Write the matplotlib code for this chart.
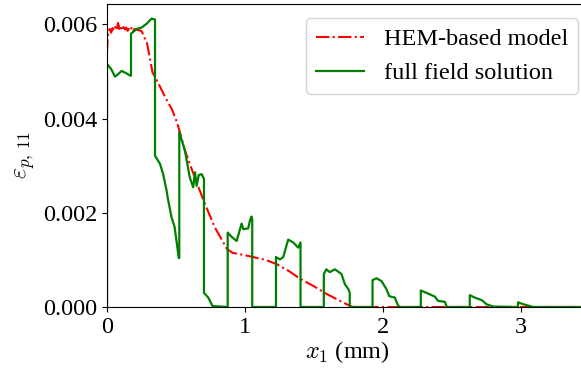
import numpy as np
import matplotlib.pyplot as plt

plt.rcParams['font.family'] = ['Liberation Serif', 'DejaVu Serif']
plt.rcParams['mathtext.fontset'] = 'cm'

# HEM-based model (x in mm, strain)
hem_x = [0.0, 0.005, 0.01, 0.02, 0.03, 0.04, 0.05, 0.06, 0.07, 0.08, 0.09, 0.10,
         0.11, 0.12, 0.13, 0.14, 0.15, 0.16, 0.17, 0.18, 0.19, 0.20, 0.22, 0.25,
         0.29, 0.33, 0.38, 0.435, 0.47, 0.51, 0.565, 0.63, 0.70, 0.78, 0.87, 0.91,
         0.98, 1.06, 1.15, 1.23, 1.32, 1.40, 1.50, 1.59, 1.67, 1.75, 1.78, 2.0,
         2.5, 3.0, 3.5]
hem_y = [0.0054, 0.0057, 0.00585, 0.0059, 0.00582, 0.00592, 0.00586, 0.00594, 0.00588,
         0.00603, 0.0059, 0.00596, 0.00587, 0.00594, 0.00589, 0.00593, 0.00586, 0.00592,
         0.00588, 0.00594, 0.00587, 0.0059, 0.00588, 0.00586,
         0.0056, 0.00498, 0.0047, 0.00438, 0.0042, 0.0039, 0.00332, 0.0028, 0.00226,
         0.0017, 0.00123, 0.00115, 0.00111, 0.00106, 0.001, 0.00091, 0.00076, 0.0006,
         0.00044, 0.00028, 0.00016, 0.00004, 0.0, 0.0, 0.0, 0.0, 0.0]

# full field solution
ff_x = [0.0, 0.0, 0.03, 0.058, 0.08, 0.106, 0.14, 0.167, 0.174, 0.174, 0.215, 0.25,
        0.287, 0.323, 0.348, 0.348, 0.384, 0.406, 0.432, 0.44, 0.468, 0.49, 0.504,
        0.52, 0.524, 0.524, 0.565, 0.60, 0.625, 0.638, 0.65, 0.665, 0.686, 0.703,
        0.703, 0.734, 0.765, 0.875, 0.875, 0.903, 0.94, 0.964, 0.976, 0.988, 1.024,
        1.036, 1.048, 1.053, 1.053, 1.225, 1.225, 1.254, 1.278, 1.297, 1.314, 1.35,
        1.386, 1.403, 1.403, 1.572, 1.572, 1.59, 1.615, 1.652, 1.70, 1.725, 1.75,
        1.76, 1.76, 1.925, 1.925, 1.954, 1.99, 2.026, 2.046, 2.087, 2.106, 2.12,
        2.275, 2.275, 2.316, 2.377, 2.40, 2.45, 2.46, 2.47, 2.63, 2.63, 2.667, 2.72,
        2.75, 2.80, 2.98, 2.98, 3.017, 3.09, 3.5]
ff_y = [0.0, 0.00516, 0.00505, 0.00489, 0.00494, 0.00501, 0.00496, 0.00491, 0.00491,
        0.0058, 0.0059, 0.00593, 0.00601, 0.00612, 0.0061, 0.00321, 0.00304, 0.00283,
        0.00247, 0.00232, 0.0019, 0.0017, 0.0014, 0.00104, 0.00104, 0.00371, 0.00332,
        0.00275, 0.00254, 0.00286, 0.00257, 0.0028, 0.00282, 0.00272, 0.0003, 0.0002,
        0.00002, 0.0, 0.00158, 0.00149, 0.0014, 0.00165, 0.00177, 0.00165, 0.00167,
        0.00183, 0.00192, 0.00185, 0.0, 0.0, 0.00106, 0.00101, 0.00106, 0.00126,
        0.00143, 0.00137, 0.00126, 0.00137, 0.0, 0.0, 0.0007, 0.0008, 0.00074, 0.0008,
        0.0007, 0.00048, 0.00038, 0.0003, 0.0, 0.0, 0.00057, 0.00061, 0.00055, 0.00038,
        0.00023, 0.0002, 0.00006, 0.0, 0.0, 0.00035, 0.0003, 0.00022, 0.00013, 0.00011,
        0.00002, 0.0, 0.0, 0.00025, 0.0002, 0.00014, 0.00006, 0.00001, 0.0, 0.0001,
        0.00006, 0.0, 0.0]

fig = plt.figure(figsize=(5.81, 3.70), dpi=100)
ax = fig.add_axes([107 / 581, 63 / 370, 480 / 581, 303 / 370])

ax.plot(hem_x, hem_y, color='red', ls='-.', lw=1.5, label='HEM-based model')
ax.plot(ff_x, ff_y, color='green', lw=1.6, label='full field solution')

ax.set_xlim(0, 3.48)
ax.set_ylim(0, 0.00643)
ax.set_xticks([0, 1, 2, 3])
ax.set_yticks([0, 0.002, 0.004, 0.006])
ax.set_yticklabels(['0.000', '0.002', '0.004', '0.006'])
ax.tick_params(labelsize=17.5)
ax.set_xlabel(r'$x_1$ (mm)', fontsize=17.5, labelpad=1)
ax.set_ylabel(r'$\varepsilon_{p,\,11}$', fontsize=17.5, labelpad=4)
ax.legend(loc='upper right', fontsize=17.5, handlelength=2.0,
          bbox_to_anchor=(1.006, 0.993))

fig.savefig('out.png', dpi=100)
